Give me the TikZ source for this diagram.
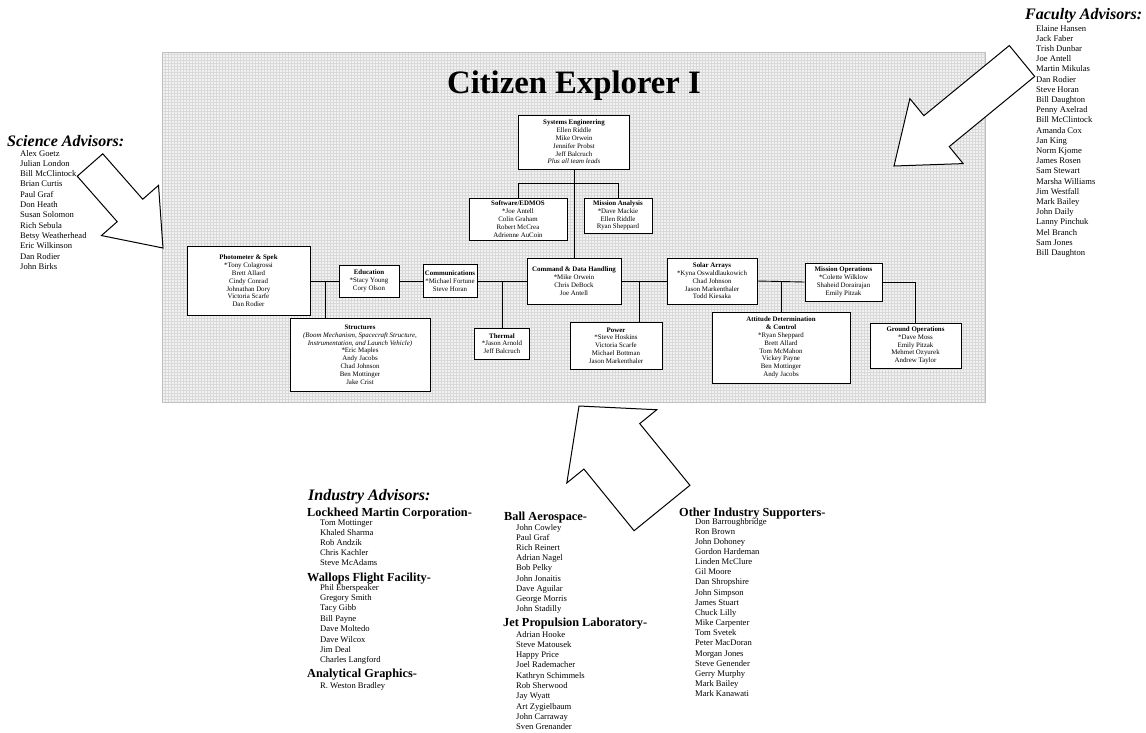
\documentclass[tikz,border=0pt]{standalone}
\usepackage{fontspec}
\setmainfont{Liberation Serif}
\usetikzlibrary{calc}

\tikzset{
 orgbox/.style={draw=black, line width=0.9pt, fill=white, align=center, inner sep=0pt, font=\fontsize{6.9}{7.8}\selectfont},
 link/.style={line width=0.9pt},
 hdr/.style={font=\fontsize{16}{17}\selectfont\bfseries\itshape, anchor=base west, inner sep=0pt},
 comp/.style={font=\fontsize{12.3}{13}\selectfont\bfseries, anchor=base west, inner sep=0pt},
 pname/.style={font=\fontsize{8.6}{10}\selectfont, anchor=base west, inner sep=0pt},
 bigarrow/.style={draw=black, line width=1pt, fill=white, line join=miter},
}

\newcommand\blockarrow[6]{%
 \coordinate (#1-t) at #2;
 \coordinate (#1-p) at #3;
 \coordinate (#1-h) at ($(#1-p)!#6!(#1-t)$);
 \draw[bigarrow] (#1-p) -- ($(#1-h)!#5!90:(#1-p)$) -- ($(#1-h)!#4!90:(#1-p)$)
   -- ($(#1-t)!#4!90:(#1-p)$) -- ($(#1-t)!#4!-90:(#1-p)$)
   -- ($(#1-h)!#4!-90:(#1-p)$) -- ($(#1-h)!#5!-90:(#1-p)$) -- cycle;
}

\begin{document}
\begin{tikzpicture}[x=1pt,y=-1pt]
\useasboundingbox (0,0) rectangle (1146,732);

% panel
\fill[gray!10] (162,52) rectangle (985,402);
\draw[gray!30, line width=0.3pt, step=3pt] (162,52) grid (985,402);
\draw[gray!50, line width=0.4pt] (162,52) rectangle (985,402);

\node[font=\fontsize{32.7}{34}\selectfont\bfseries, anchor=base, inner sep=0pt] (title) at (574,93) {Citizen Explorer I};

% boxes
\node[orgbox, minimum width=111pt, minimum height=54pt] (se) at (574,142)
 {\textbf{Systems Engineering}\\Ellen Riddle\\Mike Orwein\\Jennifer Probst\\Jeff Balcruch\\\textit{Plus all team leads}};
\node[orgbox, minimum width=98pt, minimum height=42pt] (sw) at (518,219)
 {\textbf{Software/EDMOS}\\*Joe Antell\\Colin Graham\\Robert McCrea\\Adrienne AuCoin};
\node[orgbox, minimum width=68pt, minimum height=35pt] (ma) at (618,215.5)
 {\textbf{Mission Analysis}\\*Dave Mackie\\Ellen Riddle\\Ryan Sheppard};
\node[orgbox, minimum width=94pt, minimum height=46pt] (cdh) at (574,281)
 {\textbf{Command \& Data Handling}\\*Mike Orwein\\Chris DeBock\\Joe Antell};
\node[orgbox, minimum width=123pt, minimum height=69pt] (photo) at (248.5,281)
 {\textbf{Photometer \& Spek}\\*Tony Colagrossi\\Brett Allard\\Cindy Conrad\\Johnathan Dory\\Victoria Scarfe\\Dan Rodier};
\node[orgbox, minimum width=60pt, minimum height=32pt] (edu) at (369,281)
 {\textbf{Education}\\*Stacy Young\\Cory Olson};
\node[orgbox, minimum width=54pt, minimum height=33pt] (comm) at (450,281)
 {\textbf{Communications}\\*Michael Fortune\\Steve Horan};
\node[orgbox, minimum width=140pt, minimum height=73pt] (st) at (360,354.5)
 {\textbf{Structures}\\\textit{(Boom Mechanism, Spacecraft Structure,}\\\textit{Instrumentation, and Launch Vehicle)}\\*Eric Maples\\Andy Jacobs\\Chad Johnson\\Ben Mottinger\\Jake Crist};
\node[orgbox, minimum width=55pt, minimum height=31pt] (th) at (502,343.5)
 {\textbf{Thermal}\\*Jason Arnold\\Jeff Balcruch};
\node[orgbox, minimum width=92pt, minimum height=47pt] (pw) at (616,345.5)
 {\textbf{Power}\\*Steve Hoskins\\Victoria Scarfe\\Michael Bottman\\Jason Markenthaler};
\node[orgbox, minimum width=90pt, minimum height=46pt] (sa) at (712,281)
 {\textbf{Solar Arrays}\\*Kyna Oswaldlaukowich\\Chad Johnson\\Jason Markenthaler\\Todd Kiesaka};
\node[orgbox, minimum width=77pt, minimum height=38pt] (mo) at (843.5,282)
 {\textbf{Mission Operations}\\*Colette Wilklow\\Shaheid Dorairajan\\Emily Pitzak};
\node[orgbox, minimum width=138pt, minimum height=71pt] (adc) at (781,347.5)
 {\textbf{Attitude Determination}\\\textbf{\& Control}\\*Ryan Sheppard\\Brett Allard\\Tom McMahon\\Vickey Payne\\Ben Mottinger\\Andy Jacobs};
\node[orgbox, minimum width=91pt, minimum height=45pt] (go) at (915.5,345.5)
 {\textbf{Ground Operations}\\*Dave Moss\\Emily Pitzak\\Mehmet Ozyurek\\Andrew Taylor};

% connectors
\coordinate (bar) at (574,183);
\draw[link] (se.south) -- (se.south |- cdh.north);
\draw[link] (sw.north) -- (sw.north |- bar) -- (ma.north |- bar) -- (ma.north);
\draw[link] (photo.east) -- (edu.west);
\draw[link] (edu.east) -- (comm.west);
\draw[link] (comm.east) -- (cdh.west);
\draw[link] (cdh.east) -- (sa.west);
\draw[link] (sa.east) -- (mo.west);
\coordinate (j1) at (325,281);
\coordinate (j2) at (502,281);
\coordinate (j3) at (639,281);
\coordinate (j4) at (781,281);
\draw[link] (j1) -- (j1 |- st.north);
\draw[link] (j2) -- (th.north);
\draw[link] (j3) -- (j3 |- pw.north);
\draw[link] (j4) -- (adc.north);
\draw[link] (mo.east) -| (go.north);

% big arrows
\blockarrow{sciarr}{(90,165)}{(163,248)}{17pt}{38pt}{50pt}
\blockarrow{facarr}{(1022,61)}{(894,166)}{20pt}{42pt}{55pt}
\blockarrow{indarr}{(662,508)}{(579,406)}{36pt}{58pt}{52pt}

% science advisors
\node[hdr] (scih) at (7,146) {Science Advisors:};
\foreach \n [count=\i from 0] in {Alex Goetz,Julian London,Bill McClintock,Brian Curtis,Paul Graf,Don Heath,Susan Solomon,Rich Sebula,Betsy Weatherhead,Eric Wilkinson,Dan Rodier,John Birks}
 \node[pname] (sci-\i) at (20,156+\i*10.3) {\n};

% faculty advisors
\node[hdr] (fach) at (1025,19) {Faculty Advisors:};
\foreach \n [count=\i from 0] in {Elaine Hansen,Jack Faber,Trish Dunbar,Joe Antell,Martin Mikulas,Dan Rodier,Steve Horan,Bill Daughton,Penny Axelrad,Bill McClintock,Amanda Cox,Jan King,Norm Kjome,James Rosen,Sam Stewart,Marsha Williams,Jim Westfall,Mark Bailey,John Daily,Lanny Pinchuk,Mel Branch,Sam Jones,Bill Daughton}
 \node[pname] (fac-\i) at (1036,31+\i*10.2) {\n};

% industry advisors
\node[hdr] (indh) at (308,500) {Industry Advisors:};
\node[comp] (lm) at (307,516) {Lockheed Martin Corporation-};
\foreach \n [count=\i from 0] in {Tom Mottinger,Khaled Sharma,Rob Andzik,Chris Kachler,Steve McAdams}
 \node[pname] (lm-\i) at (320,525+\i*10) {\n};
\node[comp] (wf) at (307,581) {Wallops Flight Facility-};
\foreach \n [count=\i from 0] in {Phil Eberspeaker,Gregory Smith,Tacy Gibb,Bill Payne,Dave Moltedo,Dave Wilcox,Jim Deal,Charles Langford}
 \node[pname] (wf-\i) at (320,590+\i*10.4) {\n};
\node[comp] (ag) at (307,677) {Analytical Graphics-};
\node[pname] (ag-0) at (320,688) {R. Weston Bradley};

\node[comp] (ba) at (504,520) {Ball Aerospace-};
\foreach \n [count=\i from 0] in {John Cowley,Paul Graf,Rich Reinert,Adrian Nagel,Bob Pelky,John Jonaitis,Dave Aguilar,George Morris,John Stadilly}
 \node[pname] (ba-\i) at (516,530+\i*10.2) {\n};
\node[comp] (jpl) at (503,626) {Jet Propulsion Laboratory-};
\foreach \n [count=\i from 0] in {Adrian Hooke,Steve Matousek,Happy Price,Joel Rademacher,Kathryn Schimmels,Rob Sherwood,Jay Wyatt,Art Zygielbaum,John Carraway,Sven Grenander}
 \node[pname] (jpl-\i) at (516,637+\i*10.3) {\n};

\node[comp] (oth) at (679,516) {Other Industry Supporters-};
\foreach \n [count=\i from 0] in {Don Barroughbridge,Ron Brown,John Dohoney,Gordon Hardeman,Linden McClure,Gil Moore,Dan Shropshire,John Simpson,James Stuart,Chuck Lilly,Mike Carpenter,Tom Svetek,Peter MacDoran,Morgan Jones,Steve Genender,Gerry Murphy,Mark Bailey,Mark Kanawati}
 \node[pname] (oth-\i) at (695,524+\i*10.16) {\n};
\end{tikzpicture}
\end{document}
